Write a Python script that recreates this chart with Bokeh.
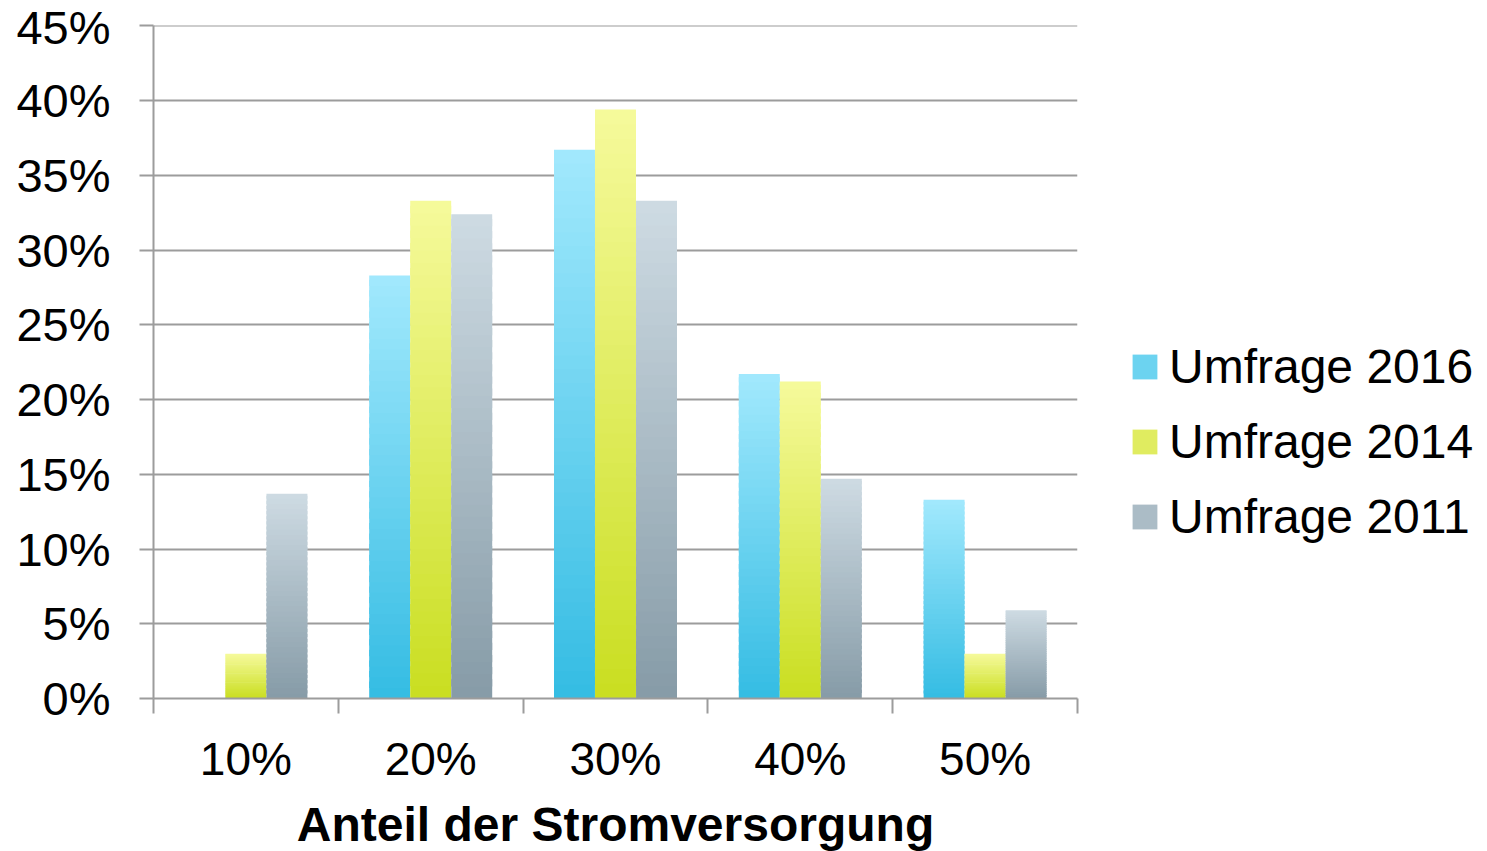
from bokeh.plotting import figure
from bokeh.models import (Range1d, FixedTicker, NumeralTickFormatter, Legend, LegendItem)
from bokeh.embed import file_html
from bokeh.resources import INLINE

# ---- data ----
categories = ["10%", "20%", "30%", "40%", "50%"]
series_names = ["Umfrage 2016", "Umfrage 2014", "Umfrage 2011"]
umfrage_2016 = [0.0, 0.283, 0.367, 0.217, 0.133]
umfrage_2014 = [0.030, 0.333, 0.394, 0.212, 0.030]
umfrage_2011 = [0.137, 0.324, 0.333, 0.147, 0.059]
y_ticks = [0.0, 0.05, 0.10, 0.15, 0.20, 0.25, 0.30, 0.35, 0.40, 0.45]

# ---- style ----
FONT = "Liberation Sans"
top_colors = ["#a2e9fd", "#f6fa9c", "#cedbe3"]
bottom_colors = ["#34bce3", "#c9de20", "#869ba7"]
offsets = [-0.222, 0.0, 0.222]
bar_w = 0.2216
N = 40
GRID = "#9c9c9c"

def hex2rgb(h):
    h = h.lstrip("#")
    return [int(h[i:i + 2], 16) for i in (0, 2, 4)]

def lerp(c0, c1, t):
    a, b = hex2rgb(c0), hex2rgb(c1)
    return "#%02x%02x%02x" % tuple(int(round(a[k] + (b[k] - a[k]) * t)) for k in range(3))

p = figure(frame_width=924, frame_height=673, min_border_left=153, min_border_top=25,
           min_border_bottom=150, min_border_right=60,
           x_range=Range1d(0, len(categories)), y_range=Range1d(0, 0.4502),
           output_backend="svg", toolbar_location=None)
p.outline_line_color = None
p.background_fill_color = "white"
p.border_fill_color = "white"

legend_items = []
for s, vals in enumerate([umfrage_2016, umfrage_2014, umfrage_2011]):
    xs = [i + 0.5 + offsets[s] for i in range(len(categories))]
    mid_r = None
    for k in range(N):
        f0 = k / N
        f1 = min(1.0, (k + 1.6) / N)
        col = lerp(bottom_colors[s], top_colors[s], (k + 0.5) / N)
        r = p.vbar(x=xs, width=bar_w, bottom=[v * f0 for v in vals], top=[v * f1 for v in vals],
                   fill_color=col, line_color=None)
        if k == N // 2:
            mid_r = r
    legend_items.append(LegendItem(label=series_names[s], renderers=[mid_r]))

# y axis
p.yaxis.ticker = FixedTicker(ticks=y_ticks)
p.yaxis.formatter = NumeralTickFormatter(format="0%")
p.yaxis.major_label_text_font = FONT
p.yaxis.major_label_text_font_size = "47px"
p.yaxis.major_label_text_color = "black"
p.yaxis.major_tick_out = 14
p.yaxis.major_tick_in = 0
p.yaxis.minor_tick_line_color = None
p.yaxis.axis_line_color = GRID
p.yaxis.axis_line_width = 2
p.yaxis.major_tick_line_color = GRID
p.yaxis.major_tick_line_width = 2
p.yaxis.major_label_standoff = 29

# x axis
p.xaxis.ticker = FixedTicker(ticks=[i + 0.5 for i in range(len(categories))],
                             minor_ticks=list(range(len(categories) + 1)))
p.xaxis.major_label_overrides = {i + 0.5: c for i, c in enumerate(categories)}
p.xaxis.major_label_text_font = FONT
p.xaxis.major_label_text_font_size = "46px"
p.xaxis.major_label_text_color = "black"
p.xaxis.major_tick_line_color = None
p.xaxis.major_tick_out = 0
p.xaxis.major_tick_in = 0
p.xaxis.minor_tick_out = 15
p.xaxis.minor_tick_in = 0
p.xaxis.minor_tick_line_color = GRID
p.xaxis.minor_tick_line_width = 2
p.xaxis.axis_line_color = GRID
p.xaxis.axis_line_width = 2
p.xaxis.major_label_standoff = 19
p.xaxis.axis_label = "Anteil der Stromversorgung"
p.xaxis.axis_label_text_font = FONT
p.xaxis.axis_label_text_font_size = "48px"
p.xaxis.axis_label_text_font_style = "bold"
p.xaxis.axis_label_text_color = "black"
p.xaxis.axis_label_standoff = 10

p.xgrid.grid_line_color = None
p.ygrid.grid_line_color = GRID
p.ygrid.grid_line_width = 2

legend = Legend(items=legend_items, location=(52, 154))
legend.label_text_font = FONT
legend.label_text_font_size = "48px"
legend.label_text_color = "black"
legend.glyph_width = 31
legend.glyph_height = 31
legend.label_standoff = 9
legend.spacing = 20
legend.padding = 0
legend.margin = 0
legend.border_line_color = None
legend.background_fill_alpha = 0
p.add_layout(legend, "right")

open("out.html", "w").write(file_html(p, INLINE))
